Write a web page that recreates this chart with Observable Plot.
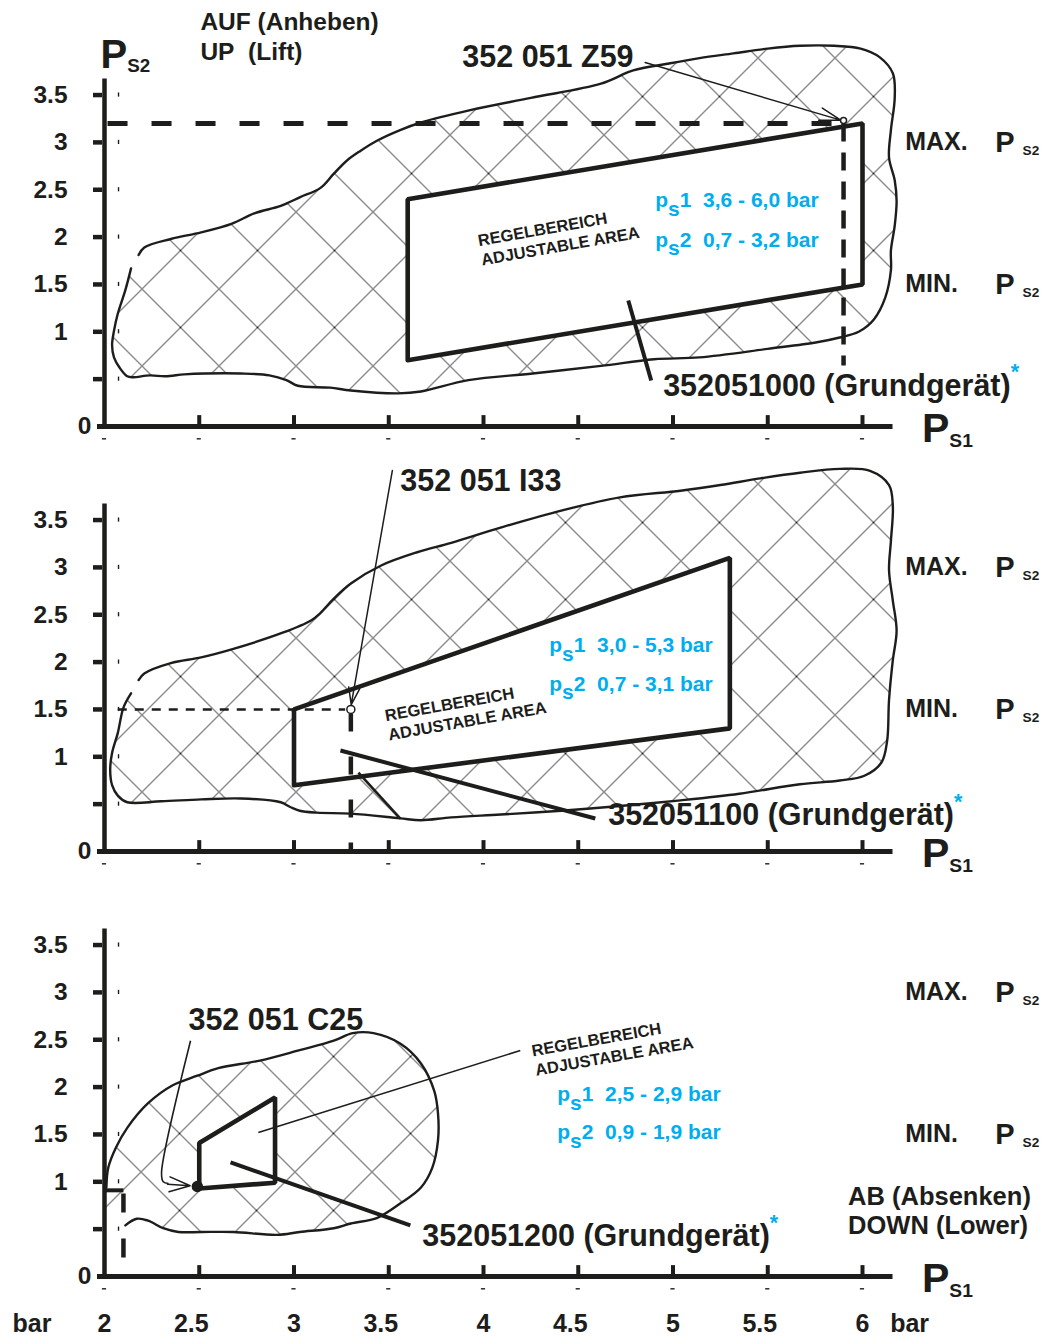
<!DOCTYPE html>
<html>
<head>
<meta charset="utf-8">
<script src="https://cdn.jsdelivr.net/npm/d3@7"></script>
<script src="https://cdn.jsdelivr.net/npm/@observablehq/plot@0.6"></script>
<style>
  html, body { margin: 0; padding: 0; background: #fff; }
  #chart { width: 1048px; height: 1336px; overflow: hidden; }
  #chart svg { display: block; overflow: visible; }
</style>
</head>
<body>
<div id="chart"></div>
<script>
// ---------------- shared axis data ----------------
const xTickValues = [2, 2.5, 3, 3.5, 4, 4.5, 5, 5.5, 6];
const xWholeTicks = [2, 3, 4, 5, 6];
const xWholeLabels = ["2", "3", "4", "5", "6"];
const xHalfTicks = [2.5, 3.5, 4.5, 5.5];
const xHalfLabels = ["2.5", "3.5", "4.5", "5.5"];
const yTickValues = [0.5, 1, 1.5, 2, 2.5, 3, 3.5];
const yLabelValues = [1, 1.5, 2, 2.5, 3, 3.5];
const yLabelTexts = ["1", "1.5", "2", "2.5", "3", "3.5"];
const levelValues = [3, 1.5];
const levelTexts = ["MAX.", "MIN."];
const unitLabels = [{x: 1.515, t: "bar"}, {x: 6.146, t: "bar"}];
const areaText = "REGELBEREICH\nADJUSTABLE AREA";

// ---------------- panel 1 : AUF / UP ----------------
const p1Blob = [
  [2.18,1.81],[2.21,1.89],[2.35,1.98],[2.51,2.05],[2.67,2.14],[2.79,2.25],[2.93,2.33],[3.03,2.42],
  [3.14,2.52],[3.21,2.67],[3.28,2.81],[3.35,2.91],[3.44,3.02],[3.56,3.13],[3.67,3.21],[3.93,3.34],
  [4.25,3.47],[4.62,3.62],[4.79,3.76],[4.97,3.83],[5.14,3.89],[5.32,3.94],[5.50,3.99],[5.67,4.02],
  [5.85,4.02],[5.99,3.99],[6.09,3.90],[6.16,3.73],[6.17,3.47],[6.15,3.13],[6.14,2.84],[6.17,2.60],
  [6.18,2.38],[6.17,2.12],[6.15,1.86],[6.15,1.65],[6.12,1.36],[6.06,1.13],[5.98,1.00],[5.88,0.94],
  [5.76,0.89],[5.50,0.82],[5.14,0.73],[4.90,0.71],[4.62,0.64],[4.26,0.56],[3.92,0.49],[3.67,0.37],
  [3.55,0.35],[3.30,0.38],[3.19,0.41],[3.02,0.43],[2.96,0.49],[2.87,0.54],[2.72,0.56],[2.53,0.56],
  [2.42,0.55],[2.32,0.53],[2.24,0.54],[2.15,0.52],[2.12,0.53],[2.08,0.62],[2.05,0.73],[2.04,0.86],
  [2.05,1.01],[2.07,1.19],[2.11,1.44],[2.14,1.67]
];
const p1Quad = [[3.6,0.7],[3.6,2.4],[6.0,3.2],[6.0,1.5]];
const p1DashH = [[2.016,3.2],[5.9,3.2]];
const p1DashV = [[5.9,3.2],[5.9,0.644]];
const p1BaseLeader = [[4.764,1.331],[4.885,0.486]];
const p1Arrow = [{x1: 4.853, y1: 3.844, x2: 5.885, y2: 3.235}];
const p1Ring = [[5.9,3.23]];
const p1Parts = [
  {x: 3.888, y: 3.80, t: "352 051 Z59"},
  {x: 4.948, y: 0.327, t: "352051000 (Grundgerät)^{*}"}
];
const p1Ranges = [
  {x: 4.906, y: 2.313, t: "p,{s}1\u00a0\u00a03,6 - 6,0 bar"},
  {x: 4.906, y: 1.90, t: "p,{s}2\u00a0\u00a00,7 - 3,2 bar"}
];
const p1Area = [{x: 3.994, y: 1.70}];
const p1Mode = [{x: 2.506, y: 3.865, t: "AUF (Anheben)\nUP\u00a0\u00a0(Lift)"}];
const p1YTitle = [{x: 1.979, y: 3.79, t: "P_{S2}"}];

// ---------------- panel 2 ----------------
const p2Blob = [
  [2.18,1.81],[2.21,1.88],[2.35,1.99],[2.51,2.05],[2.68,2.14],[2.94,2.31],[3.09,2.44],[3.14,2.52],
  [3.21,2.67],[3.30,2.83],[3.46,3.02],[3.65,3.16],[3.83,3.26],[4.09,3.42],[4.41,3.60],[4.72,3.74],
  [5.04,3.81],[5.25,3.87],[5.46,3.94],[5.67,4.00],[5.88,4.04],[6.04,4.02],[6.14,3.87],[6.16,3.65],
  [6.15,3.28],[6.14,2.97],[6.16,2.65],[6.18,2.33],[6.16,2.02],[6.14,1.60],[6.13,1.17],[6.10,0.94],
  [6.01,0.80],[5.88,0.75],[5.67,0.71],[5.35,0.61],[5.04,0.54],[4.72,0.48],[4.41,0.43],[4.09,0.39],
  [3.83,0.36],[3.67,0.33],[3.56,0.35],[3.30,0.40],[3.12,0.41],[3.03,0.43],[2.98,0.47],[2.93,0.52],
  [2.72,0.56],[2.51,0.55],[2.30,0.53],[2.12,0.52],[2.07,0.59],[2.04,0.70],[2.03,0.86],[2.04,1.04],
  [2.07,1.25],[2.10,1.52],[2.14,1.67]
];
const p2Quad = [[3.0,0.7],[3.0,1.5],[5.3,3.1],[5.3,1.3]];
const p2DashH = [[2.07,1.5],[3.27,1.5]];
const p2DashV = [[3.3,1.457],[3.3,0.0]];
const p2Stroke = [[3.34,0.834],[3.561,0.348]];
const p2BaseLeader = [[3.245,1.067],[4.590,0.348]];
const p2Arrow = [{x1: 3.519, y1: 4.023, x2: 3.302, y2: 1.55}];
const p2Ring = [[3.3,1.5]];
const p2Parts = [
  {x: 3.561, y: 3.812, t: "352 051 I33"},
  {x: 4.658, y: 0.275, t: "352051100 (Grundgerät)^{*}"}
];
const p2Ranges = [
  {x: 4.347, y: 2.11, t: "p,{s}1\u00a0\u00a03,0 - 5,3 bar"},
  {x: 4.347, y: 1.70, t: "p,{s}2\u00a0\u00a00,7 - 3,1 bar"}
];
const p2Area = [{x: 3.503, y: 1.172}];

// ---------------- panel 3 : AB / DOWN ----------------
const p3Blob = [
  [2.11,0.54],[2.17,0.61],[2.23,0.59],[2.31,0.51],[2.39,0.47],[2.51,0.47],[2.68,0.47],[2.91,0.44],
  [3.03,0.47],[3.21,0.51],[3.30,0.56],[3.44,0.62],[3.56,0.77],[3.67,0.94],[3.73,1.15],[3.76,1.44],
  [3.76,1.72],[3.74,1.96],[3.67,2.25],[3.56,2.46],[3.42,2.57],[3.31,2.57],[3.21,2.49],[3.03,2.39],
  [2.82,2.28],[2.60,2.20],[2.49,2.12],[2.36,2.02],[2.23,1.83],[2.12,1.57],[2.06,1.36],[2.02,1.15],
  [2.01,0.94]
];
const p3Closure = [[2.0,0.93],[2.0,0.72]];
const p3Quad = [[2.5,0.93],[2.5,1.41],[2.9,1.89],[2.9,0.99]];
const p3Corner = [[2.0,0.91],[2.1,0.91]];
const p3DashV = [[2.1,0.876],[2.1,0.2]];
const p3C25Leader = [[2.454,2.49],[2.301,1.098],[2.31,1.0],[2.338,0.982]];
const p3AreaLeader = [[2.812,1.521],[4.194,2.386]];
const p3BaseLeader = [[2.665,1.204],[3.614,0.539]];
const p3Arrow = [{x1: 2.08, y1: 1.01, x2: 2.452, y2: 0.958}];
const p3Dot = [[2.49,0.95]];
const p3Parts = [
  {x: 2.443, y: 2.598, t: "352 051 C25"},
  {x: 3.677, y: 0.317, t: "352051200 (Grundgerät)^{*}"}
];
const p3Ranges = [
  {x: 4.389, y: 1.848, t: "p,{s}1\u00a0\u00a02,5 - 2,9 bar"},
  {x: 4.389, y: 1.447, t: "p,{s}2\u00a0\u00a00,9 - 1,9 bar"}
];
const p3Area = [{x: 4.278, y: 2.12}];
const p3Mode = [{x: 5.924, y: 0.444, t: "AB (Absenken)\nDOWN (Lower)"}];

// ---------------- styling / layout ----------------
const INK = "#1d1d1b";
const BLUE = "#00aeef";
const FONT = "'Liberation Sans', Arial, Helvetica, sans-serif";
const Y_PX = 94.7;
const AXIS = {x1: 1.963, x2: 6.161, yTop: 3.67};
const PX = d => d[0], PY = d => d[1];

function makePanel(c) {
  const bold = {x: "x", y: "y", text: "t", fill: INK, fontWeight: "bold", textAnchor: "start", lineAnchor: "bottom"};
  const marks = [
    Plot.line(c.blobFill, {x: PX, y: PY, curve: "catmull-rom", fill: `url(#${c.hatch.id})`, stroke: "none"}),
    Plot.line(c.blob, {x: PX, y: PY, curve: "catmull-rom", stroke: INK, strokeWidth: 2.4, strokeLinejoin: "round"}),
    Plot.line(c.quad.concat([c.quad[0]]), {x: PX, y: PY, fill: "white", stroke: INK, strokeWidth: 4.6, strokeLinejoin: "miter"})
  ];
  for (const s of c.segments) {
    marks.push(Plot.line(s.pts, {x: PX, y: PY, stroke: INK, strokeWidth: s.w, strokeDasharray: s.dash, strokeLinecap: "butt", curve: s.curve || "linear"}));
  }
  for (const a of c.arrows) {
    marks.push(Plot.arrow(a.data, {x1: "x1", y1: "y1", x2: "x2", y2: "y2", stroke: INK, strokeWidth: 1.5, headLength: a.head, headAngle: a.angle, insetStart: a.inset || 0}));
  }
  for (const d of c.dots) {
    marks.push(Plot.dot(d.data, {x: PX, y: PY, r: d.r, fill: d.fill, stroke: INK, strokeWidth: 1.5}));
  }
  // axes
  marks.push(
    Plot.ruleY([0], {x1: AXIS.x1, x2: AXIS.x2, stroke: INK, strokeWidth: 5}),
    Plot.ruleX([2], {y1: 0, y2: AXIS.yTop, stroke: INK, strokeWidth: 4.5}),
    Plot.ruleX(xTickValues.slice(1), {x: d => d, y1: 0, y2: 0.115, stroke: INK, strokeWidth: 4}),
    Plot.ruleY(yTickValues, {y: d => d, x1: 1.942, x2: 1.99, stroke: INK, strokeWidth: 4.5}),
    Plot.ruleY(xTickValues, {y: -0.13, x1: d => d - 0.011, x2: d => d + 0.011, stroke: INK, strokeWidth: 1.4}),
    Plot.ruleX(yTickValues, {x: 2.074, y1: d => d - 0.022, y2: d => d + 0.022, stroke: INK, strokeWidth: 1.4}),
    Plot.text(yLabelValues, {x: 1.805, y: d => d, text: (d, i) => yLabelTexts[i], fill: INK, fontWeight: "bold", fontSize: 24.5, textAnchor: "end", lineAnchor: "middle"}),
    Plot.text([0], {x: 1.931, y: 0, text: () => "0", fill: INK, fontWeight: "bold", fontSize: 24.5, textAnchor: "end", lineAnchor: "middle"}),
    Plot.text(levelValues, {x: 6.225, y: d => d, text: (d, i) => levelTexts[i], fill: INK, fontWeight: "bold", fontSize: 25, textAnchor: "start", lineAnchor: "middle"}),
    Plot.text(levelValues, {x: 6.70, y: d => d, text: () => "P\u00a0_{S2}", fill: INK, fontWeight: "bold", fontSize: 29, textAnchor: "start", lineAnchor: "middle"}),
    Plot.text([{x: 6.314, y: -0.165, t: "P_{S1}"}], {...bold, fontSize: 41})
  );
  if (c.yTitle) marks.push(Plot.text(c.yTitle, {...bold, fontSize: 40}));
  if (c.mode) marks.push(Plot.text(c.mode, {...bold, fontSize: c.modeSize, lineHeight: c.modeLine}));
  marks.push(
    Plot.text(c.parts, {...bold, fontSize: 30.5}),
    Plot.text(c.ranges, {...bold, fill: BLUE, fontSize: 21}),
    Plot.text(c.area, {x: "x", y: "y", text: () => areaText, fill: INK, fontWeight: "bold", fontSize: 16.5, textAnchor: "start", lineAnchor: "bottom", lineHeight: 1.19, rotate: -10})
  );
  if (c.xLabels) {
    marks.push(
      Plot.text(xWholeTicks, {x: d => d, y: -0.59, text: (d, i) => xWholeLabels[i], fill: INK, fontWeight: "bold", fontSize: 25, lineAnchor: "bottom"}),
      Plot.text(xHalfTicks, {x: d => d, y: -0.59, dx: -8, text: (d, i) => xHalfLabels[i], fill: INK, fontWeight: "bold", fontSize: 25, lineAnchor: "bottom"}),
      Plot.text(unitLabels, {x: "x", y: -0.59, text: "t", fill: INK, fontWeight: "bold", fontSize: 25, textAnchor: "start", lineAnchor: "bottom"})
    );
  }
  const svg = Plot.plot({
    width: 1048,
    height: c.height,
    margin: 0,
    style: {fontFamily: FONT, background: "white", overflow: "visible"},
    x: {domain: [2, 6], range: [104, 862], axis: null},
    y: {domain: [0, c.y0 / Y_PX], range: [c.y0, 0], axis: null},
    marks
  });
  // cross-hatch pattern for the working range
  const s = 77;
  const pat = d3.select(svg).insert("defs", ":first-child").append("pattern")
    .attr("id", c.hatch.id).attr("patternUnits", "userSpaceOnUse")
    .attr("x", c.hatch.ox).attr("y", c.hatch.oy).attr("width", s).attr("height", s);
  pat.append("rect").attr("width", s).attr("height", s).attr("fill", "white");
  pat.append("path").attr("d", `M0,0L${s},${s}M${s},0L0,${s}`).attr("stroke", "#1a1a1a").attr("stroke-width", 1).attr("fill", "none");
  return svg;
}

function applyMarkup(root) {
  const kinds = {
    "_": {off: 0.12, size: 0.47},
    ",": {off: 0.42, size: 1},
    "^": {off: -0.55, size: 0.7, fill: BLUE}
  };
  root.querySelectorAll("text").forEach(t => {
    if (t.querySelector("tspan")) return;
    const s = t.textContent;
    if (!/[_,^]\{/.test(s)) return;
    const fs = parseFloat(getComputedStyle(t).fontSize) || 16;
    t.textContent = "";
    let cur = 0, last = 0, m;
    const re = /([_,^])\{([^}]*)\}/g;
    const add = (txt, off, size, fill) => {
      const ts = document.createElementNS("http://www.w3.org/2000/svg", "tspan");
      ts.textContent = txt;
      if (off !== cur) { ts.setAttribute("dy", off - cur); cur = off; }
      if (size) ts.setAttribute("font-size", size);
      if (fill) ts.setAttribute("fill", fill);
      t.appendChild(ts);
    };
    while ((m = re.exec(s))) {
      if (m.index > last) add(s.slice(last, m.index), 0);
      const k = kinds[m[1]];
      add(m[2], k.off * fs, k.size * fs, k.fill);
      last = re.lastIndex;
    }
    if (last < s.length) add(s.slice(last), 0);
  });
}

const panels = [
  {
    height: 455, y0: 426, hatch: {id: "hatch1", ox: 26, oy: 19},
    blob: p1Blob, blobFill: p1Blob, quad: p1Quad,
    segments: [
      {pts: p1DashH, w: 5, dash: "20,24"},
      {pts: p1DashV, w: 4.5, dash: "18,11"},
      {pts: p1BaseLeader, w: 4}
    ],
    arrows: [{data: p1Arrow, head: 22, angle: 34}],
    dots: [{data: p1Ring, r: 3, fill: "white"}],
    parts: p1Parts, ranges: p1Ranges, area: p1Area,
    mode: p1Mode, modeSize: 24.5, modeLine: 1.24, yTitle: p1YTitle
  },
  {
    height: 425, y0: 396, hatch: {id: "hatch2", ox: 26, oy: 67},
    blob: p2Blob, blobFill: p2Blob, quad: p2Quad,
    segments: [
      {pts: p2DashH, w: 2.6, dash: "9,8"},
      {pts: p2DashV, w: 4.5, dash: "18,25"},
      {pts: p2Stroke, w: 2.6},
      {pts: p2BaseLeader, w: 4}
    ],
    arrows: [{data: p2Arrow, head: 18, angle: 36}],
    dots: [{data: p2Ring, r: 4, fill: "white"}],
    parts: p2Parts, ranges: p2Ranges, area: p2Area
  },
  {
    height: 456, y0: 396, hatch: {id: "hatch3", ox: 25, oy: 22},
    blob: p3Blob, blobFill: p3Blob.concat(p3Closure), quad: p3Quad,
    segments: [
      {pts: p3Corner, w: 4},
      {pts: p3DashV, w: 4.5, dash: "19,26"},
      {pts: p3C25Leader, w: 1.6, curve: "catmull-rom"},
      {pts: p3AreaLeader, w: 1.6},
      {pts: p3BaseLeader, w: 4}
    ],
    arrows: [{data: p3Arrow, head: 22, angle: 40, inset: 48}],
    dots: [{data: p3Dot, r: 5, fill: INK}],
    parts: p3Parts, ranges: p3Ranges, area: p3Area,
    mode: p3Mode, modeSize: 25.5, modeLine: 1.16, xLabels: true
  }
];

const chart = document.getElementById("chart");
for (const cfg of panels) {
  const svg = makePanel(cfg);
  chart.appendChild(svg);
  applyMarkup(svg);
}
</script>
</body>
</html>
